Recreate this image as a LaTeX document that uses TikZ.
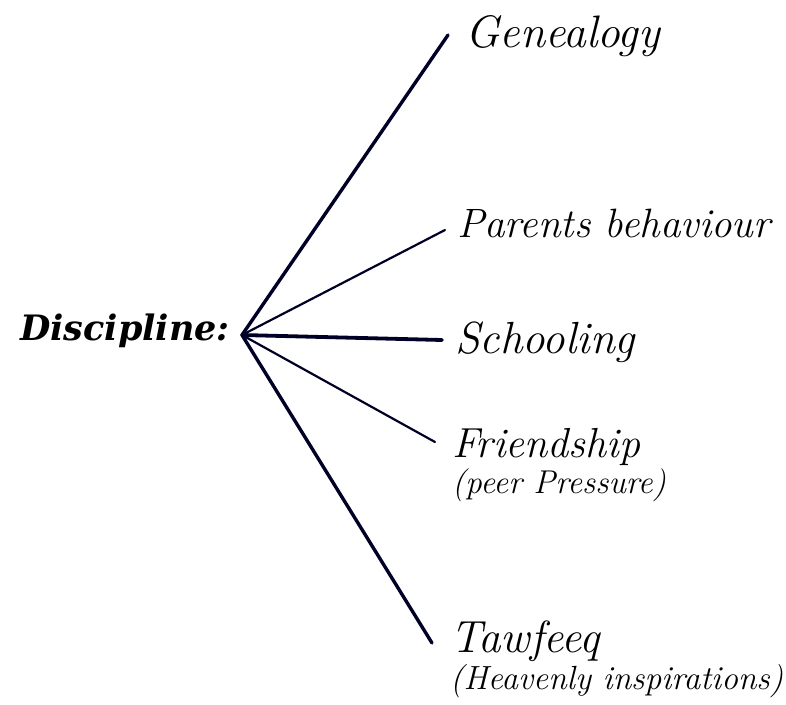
\documentclass[tikz,border=0pt]{standalone}
\usepackage{tikz}
\usepackage{fontspec}
\usetikzlibrary{positioning}
\newfontfamily\rootfont{DejaVu Serif}
\tikzset{%
	topic/.style={
		anchor=base west,
		inner sep=0pt,
		font=\fontsize{#1}{#1}\selectfont\itshape
	},
	topic/.default=44,
}

\begin{document}
\begin{tikzpicture}[
			x=1pt, y=-1pt,
			line cap=round,
			branch/.style={draw, line width=3.4pt, black!85!blue},
			thin branch/.style={draw, line width=2.2pt, black!85!blue}
			]
			\useasboundingbox (0,0) rectangle (786,704);
			
			% Root of the tree
			\coordinate (hub) at (242,335);
			\node[anchor=base east, inner sep=0pt, font=\fontsize{35}{38}\rootfont\bfseries\itshape] (root) at (230,340) {Discipline:};
			
			% Branch labels
			\node[topic=45.5] (gen) at (465,47) {Genealogy};
			\node[topic=41] (par) at (457,237) {Parents behaviour};
			\node[topic=45] (sch) at (455,353) {Schooling};
			\node[topic=42] (fri) at (452,457) {Friendship};
			\node[topic=33] (peer) at (452,493) {(peer Pressure)};
			\node[topic=45] (taw) at (450,652) {Tawfeeq};
			\node[topic=33.5] (heav) at (450,689) {(Heavenly inspirations)};
			
			% Ends of the branches
			\coordinate (gen end) at (448,35);
			\coordinate (par end) at (445,230);
			\coordinate (sch end) at (442,340);
			\coordinate (fri end) at (435,442);
			\coordinate (taw end) at (432,643);
			
			\draw[branch] (hub) -- (gen end);
			\draw[thin branch] (hub) -- (par end);
			\draw[branch, line width=3.8pt] (hub) -- (sch end);
			\draw[thin branch] (hub) -- (fri end);
			\draw[branch] (hub) -- (taw end);
			
		\end{tikzpicture}
\end{document}
